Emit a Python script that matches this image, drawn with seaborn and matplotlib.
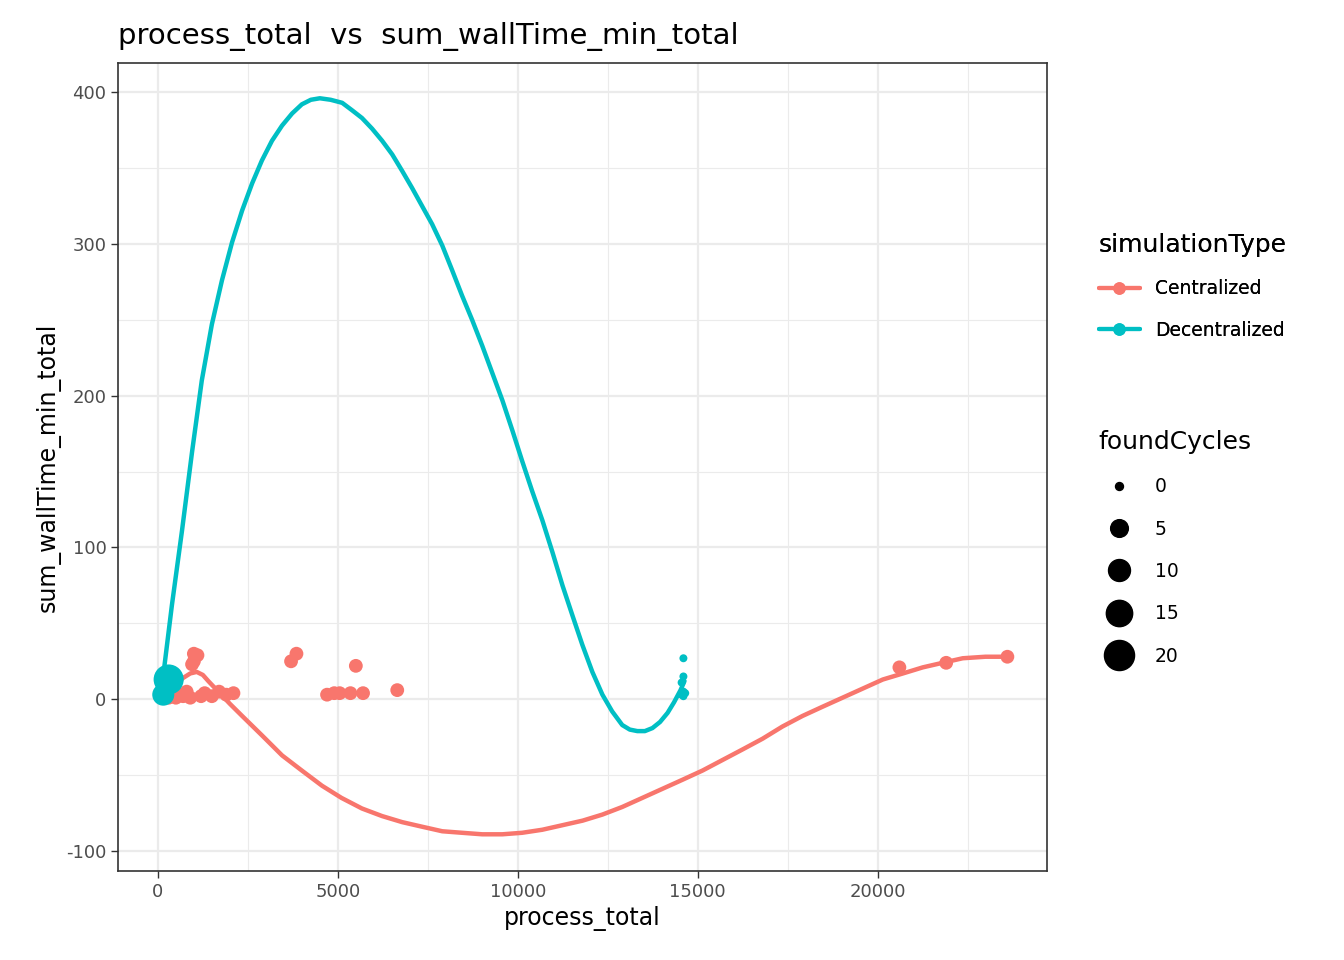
import numpy as np
import pandas as pd
import matplotlib
matplotlib.use("Agg")
import matplotlib.pyplot as plt
import seaborn as sns
from matplotlib.lines import Line2D
from matplotlib.ticker import MultipleLocator

RED = "#F8766D"
TEAL = "#00BFC4"

# scatter data
cen_x = [1000, 1100, 1000, 950, 800, 600, 400, 300, 500, 700, 900, 1200, 1300, 1500,
         1700, 1900, 2100, 3700, 3850, 4700, 4900, 5050, 5350, 5500, 5700, 6650,
         20600, 21900, 23600]
cen_y = [30, 29, 25, 23, 5, 3, 2, 1, 1, 2, 1, 2, 4, 2, 5, 3, 4, 25, 30, 3, 4, 4, 4,
         22, 4, 6, 21, 24, 28]
cen_c = [3] * len(cen_x)
dec_x = [300, 150, 14600, 14600, 14550, 14600, 14550, 14600, 14650]
dec_y = [13, 3, 27, 15, 11, 5, 3, 2, 4]
dec_c = [20, 10, 0, 0, 0, 0, 0, 0, 0]

# smoothed curves
dec_fit_x = [110, 390, 670, 950, 1220, 1500, 1780, 2060, 2340, 2620, 2890, 3170, 3450,
             3730, 4000, 4250, 4500, 4800, 5120, 5400, 5670, 5950, 6230, 6510, 6790,
             7060, 7340, 7620, 7900, 8170, 8450, 8730, 9010, 9290, 9570, 9850, 10120,
             10400, 10680, 10960, 11240, 11520, 11790, 12070, 12350, 12620, 12900,
             13110, 13320, 13530, 13740, 13950, 14160, 14340, 14520, 14630]
dec_fit_y = [8, 62, 111, 163, 210, 247, 276, 301, 322, 340, 355, 368, 378, 386, 392,
             395, 396, 395, 393, 388, 383, 376, 368, 359, 348, 337, 325, 313, 299, 283,
             266, 250, 233, 215, 197, 177, 157, 137, 118, 97, 75, 55, 36, 18, 3, -8,
             -17, -20, -21, -21, -19, -15, -9, -2, 6, 12]
cen_fit_x = [120, 400, 700, 900, 1080, 1250, 1400, 1640, 2000, 2340, 2900, 3450, 4000,
             4560, 5100, 5670, 6230, 6790, 7340, 7900, 8450, 9010, 9570, 10120, 10680,
             11240, 11800, 12350, 12900, 13460, 14020, 14580, 15130, 15690, 16250,
             16800, 17350, 17910, 18460, 19020, 19580, 20140, 20700, 21250, 21800,
             22360, 22990, 23620]
cen_fit_y = [0, 8, 14, 17, 18, 16, 12, 6, -3, -11, -24, -37, -47, -57, -65, -72, -77,
             -81, -84, -87, -88, -89, -89, -88, -86, -83, -80, -76, -71, -65, -59, -53,
             -47, -40, -33, -26, -18, -11, -5, 1, 7, 13, 17, 21, 24, 27, 28, 28]

pts = pd.DataFrame({
    "process_total": cen_x + dec_x,
    "sum_wallTime_min_total": cen_y + dec_y,
    "foundCycles": cen_c + dec_c,
    "simulationType": ["Centralized"] * len(cen_x) + ["Decentralized"] * len(dec_x),
})
fits = pd.DataFrame({
    "process_total": cen_fit_x + dec_fit_x,
    "sum_wallTime_min_total": cen_fit_y + dec_fit_y,
    "simulationType": ["Centralized"] * len(cen_fit_x) + ["Decentralized"] * len(dec_fit_x),
})

sns.set_theme(style="whitegrid")
plt.rcParams["font.family"] = ["DejaVu Sans"]
plt.rcParams["axes.unicode_minus"] = False
plt.rcParams["text.color"] = "black"
plt.rcParams["axes.labelcolor"] = "black"
fig = plt.figure(figsize=(13.44, 9.6), dpi=100)
ax = fig.add_axes([0.088, 0.093, 0.691, 0.841])
pal = {"Centralized": RED, "Decentralized": TEAL}

sns.scatterplot(data=pts, x="process_total", y="sum_wallTime_min_total",
                hue="simulationType", size="foundCycles", sizes=(33, 470),
                size_norm=(0, 20), palette=pal, linewidth=0, alpha=1,
                legend=False, ax=ax, zorder=3)
sns.lineplot(data=fits, x="process_total", y="sum_wallTime_min_total",
             hue="simulationType", palette=pal, linewidth=3.2, legend=False,
             ax=ax, sort=False, estimator=None, zorder=2)

ax.set_xlim(-1100, 24700)
ax.set_ylim(-113, 419)
ax.xaxis.set_major_locator(MultipleLocator(5000))
ax.yaxis.set_major_locator(MultipleLocator(100))
ax.xaxis.set_minor_locator(MultipleLocator(2500))
ax.yaxis.set_minor_locator(MultipleLocator(50))
ax.set_facecolor("white")
ax.grid(True, which="major", color="#EBEBEB", linewidth=1.6)
ax.grid(True, which="minor", color="#EBEBEB", linewidth=0.8)
ax.set_axisbelow(True)
for s in ax.spines.values():
    s.set_color("#333333")
    s.set_linewidth(1.2)
ax.tick_params(axis="both", which="major", length=5, width=1, color="#333333",
               labelsize=13, labelcolor="#4D4D4D", bottom=True, left=True)
ax.tick_params(which="minor", length=0)
ax.set_xlabel("process_total", fontsize=17)
ax.set_ylabel("sum_wallTime_min_total", fontsize=17)
ax.set_title("process_total  vs  sum_wallTime_min_total", fontsize=21, loc="left",
             x=0.0, pad=14)

h1 = [Line2D([], [], color=RED, lw=3, marker="o", ms=8),
      Line2D([], [], color=TEAL, lw=3, marker="o", ms=8)]
leg1 = fig.legend(h1, ["Centralized", "Decentralized"], title="simulationType",
                  loc="upper left", bbox_to_anchor=(0.805, 0.775), frameon=False,
                  fontsize=13.5, title_fontsize=18, handlelength=2.2,
                  labelspacing=1.2, alignment="left")
sz = [33, 163, 250, 360, 470]
h2 = [Line2D([], [], ls="", marker="o", color="black", ms=np.sqrt(s)) for s in sz]
fig.legend(h2, ["0", "5", "10", "15", "20"], title="foundCycles", loc="upper left",
           bbox_to_anchor=(0.805, 0.57), frameon=False, fontsize=13.5,
           title_fontsize=18, handlelength=2.2, labelspacing=1.25, alignment="left")
fig.add_artist(leg1)

fig.savefig("out.png", dpi=100)
